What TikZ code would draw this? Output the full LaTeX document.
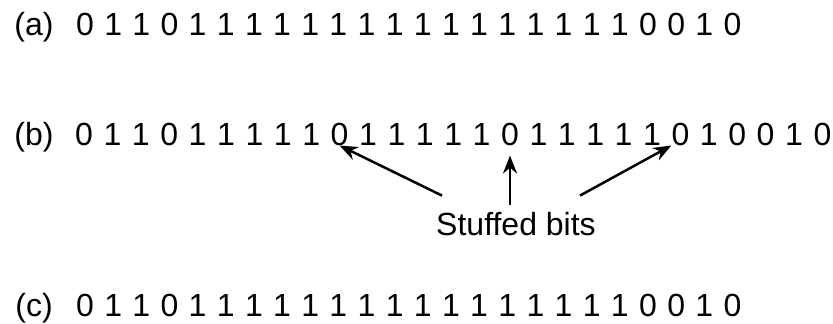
\documentclass[tikz,border=0pt]{standalone}
\usepackage{fontspec}
\setmainfont{Liberation Sans}
\usetikzlibrary{arrows.meta}
\begin{document}
\begin{tikzpicture}[x=1pt,y=-1pt,font=\fontsize{32}{38}\selectfont,
  bit/.style={anchor=base,inner sep=0pt},
  rowtag/.style={anchor=base,inner sep=0pt},
  stuffarrow/.style={-{Stealth[length=18pt,width=14pt]},line width=2.5pt}]
\useasboundingbox (0,0) rectangle (833,324);
% (a) original data
\node[rowtag] (taga) at (34,35) {(a)};
\foreach \b [count=\i] in {0,1,1,0,1,1,1,1,1,1,1,1,1,1,1,1,1,1,1,1,0,0,1,0}
  \node[bit] (a\i) at ({85+28.15*(\i-1)},35) {\b};
% (b) data with stuffed bits
\node[rowtag] (tagb) at (34,145) {(b)};
\foreach \b [count=\i] in {0,1,1,0,1,1,1,1,1,0,1,1,1,1,1,0,1,1,1,1,1,0,1,0,0,1,0}
  \node[bit] (b\i) at ({84+28.4*(\i-1)},145) {\b};
\node[anchor=base,inner sep=0pt] (stuffed) at (516,235) {Stuffed bits};
\coordinate (midfoot) at (b16.south |- stuffed.north);
\draw[stuffarrow] ([xshift=6pt,yshift=16pt]stuffed.north west) -- (b10.south);
\draw[stuffarrow] ([yshift=7pt]midfoot) -- ([yshift=-10pt]b16.south);
\draw[stuffarrow] ([xshift=-16pt,yshift=16pt]stuffed.north east) -- (b22.south west);
% (c) data after destuffing
\node[rowtag] (tagc) at (34,316) {(c)};
\foreach \b [count=\i] in {0,1,1,0,1,1,1,1,1,1,1,1,1,1,1,1,1,1,1,1,0,0,1,0}
  \node[bit] (c\i) at ({85+28.15*(\i-1)},316) {\b};
\end{tikzpicture}
\end{document}
